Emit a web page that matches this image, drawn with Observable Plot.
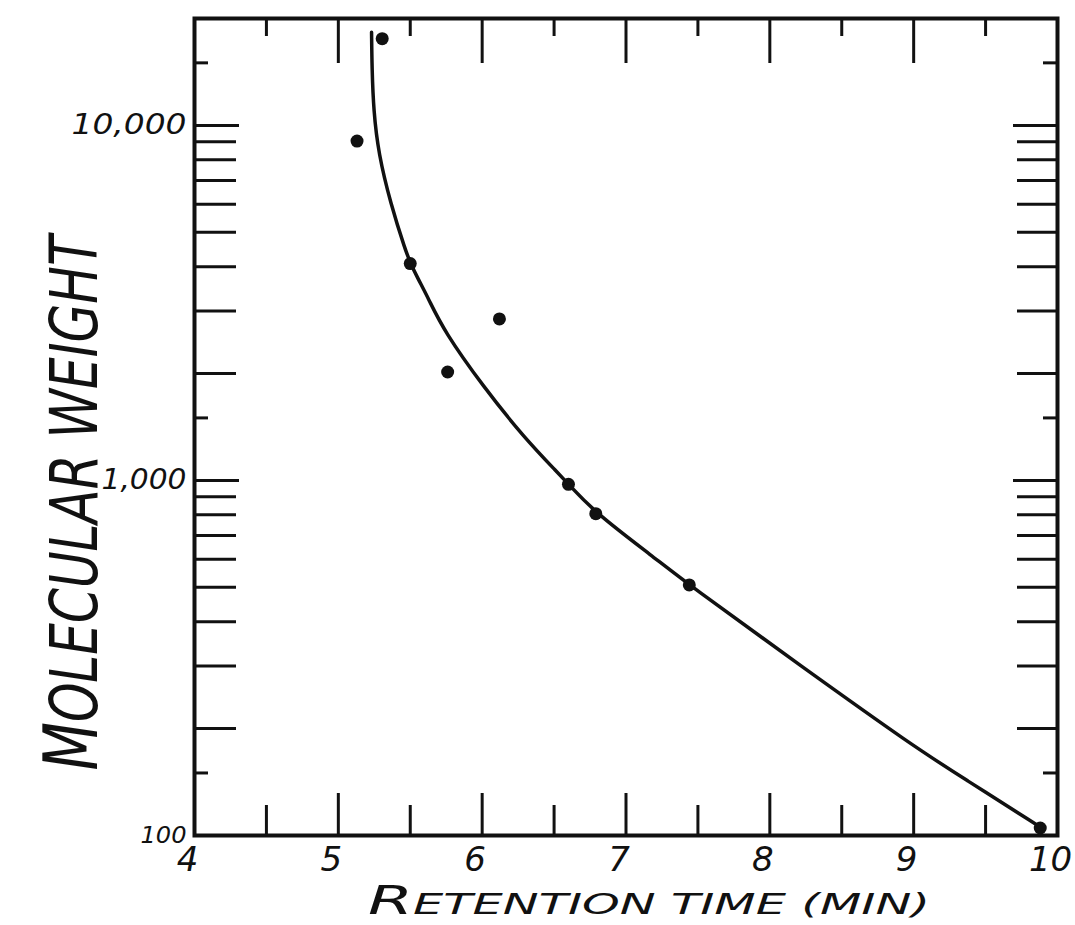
<!DOCTYPE html>
<html><head><meta charset="utf-8">
<script src="https://cdn.jsdelivr.net/npm/d3@7"></script>
<script src="https://cdn.jsdelivr.net/npm/@observablehq/plot@0.6"></script>
<style>body{margin:0;background:#fff;} #chart svg{display:block;}</style>
</head><body><div id="chart"></div>
<script>
// Measured points (retention time, molecular weight)
const pointTime = [5.13, 5.305, 5.50, 5.76, 6.12, 6.60, 6.79, 7.44, 9.88];
const pointMW   = [9030, 17550, 4080, 2020, 2850, 975, 806, 508, 105];

// Hand-drawn calibration curve
const curveTime = [5.231, 5.234, 5.245, 5.279, 5.363, 5.467, 5.502, 5.548, 5.627, 5.733, 6.011, 6.290, 6.533, 6.602, 6.795, 7.193, 7.437, 8.213, 9.001, 9.347, 9.882];
const curveMW   = [18300, 14500, 11000, 8330, 6030, 4440, 4090, 3740, 3250, 2640, 1830, 1323, 1044, 974, 805, 608, 508, 301, 178, 145, 105.5];

// Axis ticks and labels
const xLabelValues = [4, 5, 6, 7, 8, 9, 10];
const xLabels = ["4", "5", "6", "7", "8", "9", "10"];
const xMajorTicks = [5, 6, 7, 8, 9];
const xMinorTicks = [4.5, 5.5, 6.5, 7.5, 8.5, 9.5];
const yLabelValues = [100, 1000, 10000];
const yLabels = ["100", "1,000", "10,000"];
const yDecadeTicks = [1000, 10000];
const yMinorTicks = [200, 300, 400, 500, 600, 700, 800, 900, 2000, 3000, 4000, 5000, 6000, 7000, 8000, 9000];
const yHalfTicks = [150, 1500, 15000];
const xTitle = "RETENTION TIME (MIN)";
const yTitle = "MOLECULAR WEIGHT";

const W = 1075, H = 925;
const mT = 18, mR = 18, mB = 90, mL = 194;
const iW = W - mL - mR, iH = H - mT - mB;

const points = pointTime.map((t, i) => ({t, mw: pointMW[i]}));
const curve = curveTime.map((t, i) => ({t, mw: curveMW[i]}));
const font = "DejaVu Sans, sans-serif";
const ink = "#111";

const chart = Plot.plot({
  width: W, height: H,
  marginTop: mT, marginRight: mR, marginBottom: mB, marginLeft: mL,
  x: {domain: [4, 10], axis: null},
  y: {type: "log", domain: [100, 20000], axis: null},
  style: {background: "#fff", color: ink, fontFamily: font},
  marks: [
    // bottom ticks
    Plot.ruleX(xMajorTicks, {x: d => d, insetTop: iH - 42, stroke: ink, strokeWidth: 3}),
    Plot.ruleX(xMinorTicks, {x: d => d, insetTop: iH - 30, stroke: ink, strokeWidth: 3}),
    // top ticks
    Plot.ruleX(xMajorTicks, {x: d => d, insetBottom: iH - 45, stroke: ink, strokeWidth: 3}),
    Plot.ruleX(xMinorTicks, {x: d => d, insetBottom: iH - 18, stroke: ink, strokeWidth: 3}),
    // left ticks
    Plot.ruleY(yDecadeTicks, {y: d => d, insetRight: iW - 45, stroke: ink, strokeWidth: 3}),
    Plot.ruleY(yMinorTicks, {y: d => d, insetRight: iW - 42, stroke: ink, strokeWidth: 3}),
    Plot.ruleY(yHalfTicks, {y: d => d, insetRight: iW - 14, stroke: ink, strokeWidth: 3}),
    // right ticks
    Plot.ruleY(yDecadeTicks, {y: d => d, insetLeft: iW - 44, stroke: ink, strokeWidth: 3}),
    Plot.ruleY(yMinorTicks, {y: d => d, insetLeft: iW - 40, stroke: ink, strokeWidth: 3}),
    Plot.ruleY(yHalfTicks, {y: d => d, insetLeft: iW - 14, stroke: ink, strokeWidth: 3}),
    Plot.frame({stroke: ink, strokeWidth: 4}),
    // curve and points
    Plot.line(curve, {x: "t", y: "mw", curve: "basis", stroke: ink, strokeWidth: 3.5}),
    Plot.dot(points, {x: "t", y: "mw", r: 6.5, fill: ink, stroke: "none"}),
    // tick labels
    Plot.text(xLabelValues, {x: d => d, text: (d, i) => xLabels[i], frameAnchor: "bottom", lineAnchor: "middle",
      dx: -7, dy: 25, fontSize: 34, fontStyle: "italic", fill: ink, fontFamily: font}),
    Plot.text(yLabelValues, {y: d => d, text: (d, i) => yLabels[i], frameAnchor: "left", textAnchor: "end",
      lineAnchor: "middle", dx: -8, fontSize: d => d === 100 ? 23 : 28, fontStyle: "italic", fill: ink, fontFamily: font}),
    // axis titles
    Plot.text([yTitle], {text: d => d, frameAnchor: "left", textAnchor: "middle", lineAnchor: "middle",
      dx: -119, dy: 76, rotate: -90, fontSize: 66, fontStyle: "italic", fill: ink, fontFamily: font}),
    Plot.text([xTitle], {text: d => d, frameAnchor: "bottom", textAnchor: "middle", lineAnchor: "middle",
      dx: 23, dy: 69, fontSize: 29, fontStyle: "italic", fill: ink, fontFamily: font})
  ]
});
document.getElementById("chart").append(chart);

// hand-lettered look: larger first capital, condensed to the drawn length
const titles = {"MOLECULAR WEIGHT": [535, 1.12], "RETENTION TIME (MIN)": [562, 1.35]};
const lengths = {"10,000": 115, "1,000": 85, "100": 46};
d3.select(chart).selectAll("text").each(function() {
  const s = this.textContent;
  if (titles[s]) {
    const [L, k] = titles[s];
    const fs = parseFloat(getComputedStyle(this).fontSize);
    const el = d3.select(this);
    el.text(null);
    el.append("tspan").attr("font-size", fs * k).text(s[0]);
    el.append("tspan").text(s.slice(1));
    el.attr("textLength", L).attr("lengthAdjust", "spacingAndGlyphs");
  } else if (lengths[s]) {
    d3.select(this).attr("textLength", lengths[s]).attr("lengthAdjust", "spacingAndGlyphs");
  }
});
</script>
</body></html>
